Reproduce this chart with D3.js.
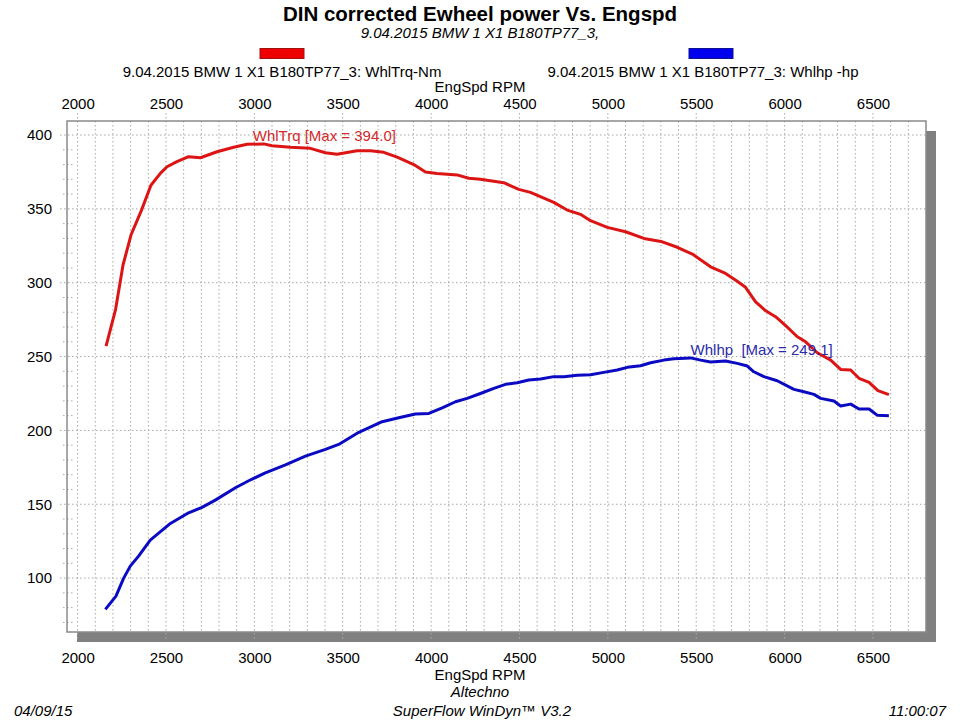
<!DOCTYPE html>
<html>
<head>
<meta charset="utf-8">
<script src="https://cdn.jsdelivr.net/npm/d3@7"></script>
<style>
  html, body { margin: 0; padding: 0; background: #fff; }
  svg { display: block; }
  text { font-family: "Liberation Sans", Arial, sans-serif; }
</style>
</head>
<body>
<svg id="chart" width="960" height="720"></svg>
<script>
// ---------- data ----------
const titleText = "DIN corrected Ewheel power Vs. Engspd";
const subtitleText = "9.04.2015 BMW 1 X1 B180TP77_3,";
const seriesNames = ["9.04.2015 BMW 1 X1 B180TP77_3: WhlTrq-Nm", "9.04.2015 BMW 1 X1 B180TP77_3: Whlhp -hp"];
const xTicks = [2000, 2500, 3000, 3500, 4000, 4500, 5000, 5500, 6000, 6500];
const yTicks = [100, 150, 200, 250, 300, 350, 400];

const trqRpm = [2161, 2215, 2257, 2302, 2361, 2415, 2468, 2506, 2562, 2628, 2695, 2789, 2883, 2959, 3053, 3100,
  3204, 3317, 3402, 3468, 3581, 3657, 3732, 3808, 3902, 3968, 4034, 4147, 4213, 4279, 4411, 4496, 4562, 4694,
  4770, 4845, 4902, 4997, 5100, 5204, 5308, 5393, 5478, 5581, 5666, 5732, 5779, 5836, 5893, 5949, 6006, 6072,
  6119, 6185, 6261, 6317, 6374, 6421, 6478, 6528, 6590];
const trqNm = [257, 282, 312, 332.3, 349, 366, 374, 378.5, 382, 385.3, 384.6, 388.7, 391.7, 393.7, 394.0, 392.8,
  391.7, 391, 388, 387, 389.4, 389.4, 388.3, 385, 380, 375, 374, 373, 370.7, 370, 367.7, 363.2, 361.2, 354.4,
  349.2, 346.3, 342, 337.5, 334.5, 330, 327.7, 324, 319.4, 310.8, 306.3, 301, 296.9, 287, 281, 277, 270.9, 263.4,
  260, 252.6, 247.6, 241.3, 240.9, 235.3, 232.5, 226.9, 224.2];

const hpRpm = [2157, 2217, 2260, 2298, 2345, 2411, 2525, 2628, 2704, 2779, 2893, 2968, 3062, 3176, 3289, 3402,
  3477, 3591, 3723, 3817, 3911, 3987, 4063, 4138, 4204, 4279, 4355, 4421, 4487, 4553, 4619, 4694, 4751, 4827,
  4902, 4977, 5053, 5110, 5185, 5242, 5317, 5374, 5468, 5525, 5581, 5666, 5732, 5789, 5826, 5883, 5958, 6053,
  6109, 6166, 6204, 6279, 6317, 6374, 6421, 6478, 6525, 6590];
const hpVal = [78.8, 87.8, 99.8, 108.1, 114.9, 125.7, 137, 144.2, 147.9, 152.8, 161.2, 165.9, 171.3, 176.7, 182.6, 187.2,
  190.5, 198.7, 205.9, 208.6, 211.1, 211.5, 215.3, 219.4, 221.7, 225, 228.5, 231.2, 232.3, 234.1, 234.8, 236.4, 236.4, 237.3,
  237.7, 239.3, 240.9, 242.7, 243.8, 245.8, 247.6, 248.5, 249.1, 247.6, 246.3, 247, 245.4, 243.6, 239.7, 236.4, 233.6, 227.8,
  226.2, 224.4, 221.7, 219.9, 216.5, 217.8, 214.5, 214.5, 210.2, 210];

const trqMaxLabel = "WhlTrq [Max = 394.0]";
const hpMaxLabel = "Whlhp\u00a0\u00a0[Max = 249.1]";

// ---------- layout ----------
const svg = d3.select("#chart");
const L = 67, R = 926, T = 121, B = 632;
const x = d3.scaleLinear().domain([1940, 6800]).range([L, R]);
const y = d3.scaleLinear().domain([63.5, 409.5]).range([B, T]);

const red = "#dc1414", blue = "#0a0ac2";
const gridCol = "#a8a8a8";

// titles
svg.append("text").attr("x", 480).attr("y", 21).attr("text-anchor", "middle")
  .attr("font-size", 20.5).attr("font-weight", "bold").text(titleText);
svg.append("text").attr("x", 480).attr("y", 38).attr("text-anchor", "middle")
  .attr("font-size", 15).attr("font-style", "italic").text(subtitleText);

// legend
const legendCols = [red, blue];
const legendStroke = ["#a01010", "#101090"];
const legendFill = ["#ee0000", "#0000ee"];
const legX = [282, 711], legTextX = [282, 703];
seriesNames.forEach((n, i) => {
  svg.append("rect").attr("x", legX[i] - 22).attr("y", 48.5).attr("width", 44).attr("height", 10)
    .attr("fill", legendFill[i]).attr("stroke", legendStroke[i]).attr("stroke-width", 1);
  svg.append("text").attr("x", legTextX[i]).attr("y", 77).attr("text-anchor", "middle")
    .attr("font-size", 15).text(n);
});

// axis titles
svg.append("text").attr("x", 480).attr("y", 92).attr("text-anchor", "middle").attr("font-size", 15).text("EngSpd RPM");
svg.append("text").attr("x", 480).attr("y", 680).attr("text-anchor", "middle").attr("font-size", 15).text("EngSpd RPM");

// shadow + plot bg
svg.append("rect").attr("x", L + 10).attr("y", T + 10).attr("width", R - L).attr("height", B - T).attr("fill", "#808080");
svg.append("rect").attr("x", L).attr("y", T).attr("width", R - L).attr("height", B - T).attr("fill", "#fff");

// vertical grid every 100 rpm
const g = svg.append("g");
d3.range(2000, 6800, 100).forEach(v => {
  const major = v % 500 === 0;
  g.append("line").attr("x1", x(v)).attr("x2", x(v))
    .attr("y1", major ? T - 8 : T).attr("y2", major ? B + 8 : B)
    .attr("stroke", gridCol).attr("stroke-width", 1).attr("stroke-dasharray", "1.5,2.5");
});
// horizontal major grid
yTicks.forEach(v => {
  g.append("line").attr("x1", L - 7).attr("x2", R).attr("y1", y(v)).attr("y2", y(v))
    .attr("stroke", gridCol).attr("stroke-width", 1).attr("stroke-dasharray", "1.5,2.5");
});
// minor y ticks every 10
d3.range(70, 410, 10).filter(v => v % 50 !== 0).forEach(v => {
  g.append("line").attr("x1", L - 4).attr("x2", L + 8).attr("y1", y(v)).attr("y2", y(v))
    .attr("stroke", gridCol).attr("stroke-width", 1).attr("stroke-dasharray", "1.5,2.5");
});

// border
svg.append("rect").attr("x", L).attr("y", T).attr("width", R - L).attr("height", B - T)
  .attr("fill", "none").attr("stroke", "#8a8a8a").attr("stroke-width", 1.5);

// axes labels using d3 axes (tick labels only)
const topAxis = d3.axisTop(x).tickValues(xTicks).tickSize(0).tickPadding(0).tickFormat(d3.format("d"));
const botAxis = d3.axisBottom(x).tickValues(xTicks).tickSize(0).tickPadding(0).tickFormat(d3.format("d"));
const leftAxis = d3.axisLeft(y).tickValues(yTicks).tickSize(0).tickPadding(0).tickFormat(d3.format("d"));

const ta = svg.append("g").attr("transform", `translate(0,${109})`).call(topAxis);
const ba = svg.append("g").attr("transform", `translate(0,${651})`).call(botAxis);
const la = svg.append("g").attr("transform", `translate(${52},0)`).call(leftAxis);
[ta, ba, la].forEach(a => {
  a.select(".domain").remove();
  a.selectAll("text").attr("font-size", 15).attr("fill", "#000")
    .attr("font-family", '"Liberation Sans", Arial, sans-serif');
});
ta.selectAll("text").attr("dy", 0);
ba.selectAll("text").attr("dy", "0.8em");

// lines
const trqData = trqRpm.map((r, i) => [r, trqNm[i]]);
const hpData = hpRpm.map((r, i) => [r, hpVal[i]]);
const line = d3.line().x(d => x(d[0])).y(d => y(d[1]));

svg.append("path").datum(hpData).attr("d", line).attr("fill", "none")
  .attr("stroke", blue).attr("stroke-width", 3).attr("stroke-linejoin", "round");
svg.append("path").datum(trqData).attr("d", line).attr("fill", "none")
  .attr("stroke", red).attr("stroke-width", 3).attr("stroke-linejoin", "round");

// max labels
const tMaxI = d3.maxIndex(trqNm), hMaxI = d3.maxIndex(hpVal);
svg.append("text").attr("x", x(trqRpm[tMaxI]) - 11).attr("y", y(trqNm[tMaxI]) - 3)
  .attr("font-size", 15).attr("fill", "#d42a2a").text(trqMaxLabel);
svg.append("text").attr("x", x(hpRpm[hMaxI])).attr("y", y(hpVal[hMaxI]) - 3)
  .attr("font-size", 15).attr("fill", "#2a2aaa").text(hpMaxLabel);

// footer
svg.append("text").attr("x", 480).attr("y", 697).attr("text-anchor", "middle")
  .attr("font-size", 15).attr("font-style", "italic").text("Altechno");
svg.append("text").attr("x", 482).attr("y", 716).attr("text-anchor", "middle")
  .attr("font-size", 15).attr("font-style", "italic").text("SuperFlow WinDyn\u2122 V3.2");
svg.append("text").attr("x", 14).attr("y", 716)
  .attr("font-size", 15).attr("font-style", "italic").text("04/09/15");
svg.append("text").attr("x", 946).attr("y", 716).attr("text-anchor", "end")
  .attr("font-size", 15).attr("font-style", "italic").text("11:00:07");
</script>
</body>
</html>
